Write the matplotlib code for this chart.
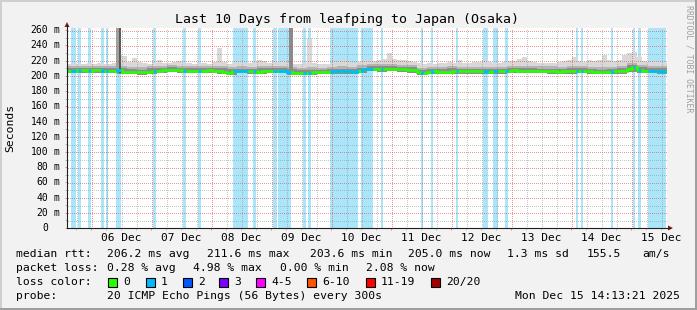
import numpy as np
import matplotlib
matplotlib.use("Agg")
import matplotlib.pyplot as plt
from matplotlib.lines import Line2D
from matplotlib.patches import Rectangle, Polygon
from datetime import datetime, timedelta

W, H = 697, 310
end_time = datetime(2025, 12, 15, 14, 13, 21)
start_time = end_time - timedelta(days=10)

# median rtt in ms, one value per 2 hours
median_rtt = [
    207.0, 206.4, 207.5, 207.8, 206.2, 207.6, 207.8, 206.4, 206.6, 206.4,
    207.6, 205.3, 205.0, 204.6, 204.6, 204.8, 204.9, 206.8, 207.1, 207.3,
    207.8, 208.2, 207.2, 206.8, 206.9, 207.1, 206.5, 206.8, 207.2, 206.9,
    206.6, 205.6, 203.8, 205.8, 206.5, 206.4, 206.2, 205.9, 204.8, 206.7,
    206.8, 206.6, 206.9, 206.2, 205.6, 204.2, 204.0, 204.2, 204.3, 205.2,
    205.3, 205.0, 205.6, 205.8, 206.0, 206.0, 205.9, 205.4, 206.9, 209.0,
    209.3, 209.0, 208.6, 209.2, 208.9, 209.4, 209.0, 208.7, 208.0, 207.2,
    204.6, 204.4, 205.4, 205.8, 205.6, 204.9, 205.1, 206.6, 206.2, 205.9,
    206.1, 205.8, 206.2, 205.8, 205.6, 205.9, 206.0, 205.8, 207.0, 207.4,
    206.8, 206.6, 206.4, 206.9, 206.5, 206.2, 206.0, 206.5, 205.7, 206.2,
    205.9, 206.6, 206.4, 206.8, 206.3, 205.4, 204.9, 205.2, 205.5, 205.8,
    205.9, 206.6, 208.6, 211.6, 208.1, 206.9, 207.0, 206.9, 206.5, 205.0,
]

# highest ping of the smoke, one value per 2 hours
smoke_top = [
    215.5, 216.8, 216.0, 215.2, 216.4, 215.8, 217.0, 216.2, 215.6, 216.5,
    229.0, 226.5, 217.8, 224.0, 218.2, 216.4, 215.8, 216.6, 220.5, 217.2,
    216.8, 218.0, 219.5, 217.0, 216.5, 215.7, 216.9, 217.5, 216.2, 218.4,
    237.0, 218.5, 215.9, 217.4, 218.2, 217.6, 217.0, 218.8, 220.8, 219.4,
    217.3, 216.8, 218.6, 219.8, 217.5, 216.2, 215.5, 216.4, 250.0, 217.2,
    216.0, 215.4, 216.3, 217.8, 219.2, 221.5, 218.8, 217.4, 218.2, 220.5,
    221.0, 220.2, 221.3, 222.0, 229.5, 222.5, 221.0, 220.4, 219.2, 218.6,
    216.4, 216.0, 217.5, 216.2, 217.0, 216.6, 218.0, 217.2, 221.0, 217.6,
    216.8, 217.9, 218.6, 221.2, 218.0, 217.1, 216.5, 218.3, 219.0, 220.2,
    222.5, 225.2, 219.4, 218.0, 217.2, 216.8, 217.5, 216.4, 217.8, 219.0,
    220.4, 225.0, 219.8, 218.2, 220.6, 219.4, 220.8, 227.0, 221.2, 219.0,
    220.5, 228.0, 230.0, 232.0, 224.5, 219.6, 218.4, 219.0, 218.2, 217.0,
]

# smoke layers, one value per 4 hours
smoke_upper = [
    212.8, 213.5, 213.0, 213.2, 212.6, 213.4, 211.5, 211.8, 212.9, 213.3,
    214.0, 213.1, 212.9, 212.4, 213.0, 212.5, 211.8, 212.6, 212.2, 212.5,
    212.8, 212.6, 211.6, 210.3, 211.2, 211.0, 211.8, 212.4, 212.3, 213.8,
    215.2, 215.5, 215.4, 215.0, 214.2, 210.6, 211.9, 211.5, 212.6, 212.2,
    212.0, 212.3, 211.9, 212.0, 213.4, 212.8, 213.0, 212.6, 212.5, 212.2,
    212.7, 213.1, 212.3, 211.2, 211.8, 212.7, 217.5, 214.6, 213.2, 212.8,
]
smoke_dark = [
    210.0, 210.8, 210.3, 210.6, 209.8, 210.4, 208.5, 208.4, 210.0, 210.5,
    211.2, 210.4, 210.2, 209.9, 210.3, 209.8, 209.0, 209.7, 209.5, 209.9,
    210.0, 209.9, 208.8, 207.5, 208.3, 208.4, 209.1, 209.6, 209.3, 211.0,
    212.5, 212.4, 212.6, 212.2, 211.3, 207.8, 209.0, 208.8, 209.9, 209.4,
    209.3, 209.4, 209.1, 209.2, 210.6, 210.0, 210.1, 209.7, 209.7, 209.4,
    209.8, 210.0, 209.5, 208.4, 209.0, 209.8, 214.5, 211.8, 210.4, 209.9,
]
smoke_bottom = [
    203.5, 204.2, 203.4, 203.6, 203.4, 202.6, 201.9, 201.8, 202.1, 204.0,
    204.6, 203.8, 203.9, 203.5, 203.8, 202.7, 201.0, 203.3, 202.9, 202.0,
    203.6, 203.2, 201.3, 201.2, 201.5, 202.1, 202.6, 202.9, 202.5, 203.8,
    206.0, 205.7, 205.9, 205.7, 204.3, 201.4, 202.4, 202.0, 202.2, 203.0,
    202.8, 202.9, 202.7, 202.9, 203.9, 203.6, 203.5, 203.2, 203.0, 202.8,
    203.0, 203.3, 202.5, 202.0, 202.6, 203.0, 205.5, 204.0, 203.9, 202.1,
]

# packet loss periods (hours after start)
loss_start = [1.6, 4.2, 8.4, 13.6, 15.4, 19.5, 34.2, 46.3, 52.4, 66.4,
              74.4, 82.4, 84.4, 94.3, 96.3, 105.2, 117.5, 125.5, 141.5, 145.6,
              155.6, 166.3, 170.4, 175.3, 203.5, 205.5, 217.5, 226.3, 228.3, 232.3]
loss_end = [3.6, 5.6, 9.6, 14.6, 16.4, 21.5, 35.6, 47.6, 53.6, 72.4,
            75.6, 83.8, 89.6, 95.6, 97.6, 116.3, 122.5, 126.3, 142.4, 146.4,
            156.4, 168.4, 172.3, 176.3, 204.3, 206.4, 218.3, 227.3, 229.6, 239.5]

# outlier pings that reach the top of the graph
spike_start = [19.6, 20.8, 88.9]
spike_end = [20.8, 21.6, 90.2]
spike_top = [263, 263, 263]

y_ticks = list(range(0, 261, 20))

loss_labels = ["0", "1", "2", "3", "4-5", "6-10", "11-19", "20/20"]
loss_colors = ["#26ff00", "#00b8ff", "#0059ff", "#7e00ff", "#ff00ff",
               "#ff5500", "#ff0000", "#a10000"]

MONO = "DejaVu Sans Mono"
GRID = (0.56, 0.56, 0.56, 0.5)
MGRID = (0.87, 0.31, 0.31, 0.6)

PW, PH = 600, 200      # canvas size in pixels
XMAX, YMAX = 240, 263


def fx(px):
    return px / W


def fy(py):
    return 1 - py / H


fig = plt.figure(figsize=(W / 100, H / 100), dpi=100, facecolor="#f2f2f2")
ax = fig.add_axes([fx(67), fy(228), PW / W, PH / H])
ax.set_facecolor("white")
for s in ax.spines.values():
    s.set_visible(False)

# loss background
for s, e in zip(loss_start, loss_end):
    ax.axvspan(s, e, color="#aae5fa", lw=0, zorder=1)

# smoke
e2 = np.arange(len(median_rtt) + 1) * 2.0
e4 = np.arange(len(smoke_dark) + 1) * 4.0
ax.stairs(smoke_top, e2, baseline=np.repeat(smoke_bottom, 2), fill=True,
          color="#d8d8d8", lw=0, zorder=2)
ax.stairs(smoke_upper, e4, baseline=smoke_bottom, fill=True,
          color="#b4b4b4", lw=0, zorder=2.1)
ax.stairs(smoke_dark, e4, baseline=smoke_bottom, fill=True,
          color="#8c8c8c", lw=0, zorder=2.2)
for s, e, t, c in zip(spike_start, spike_end, spike_top,
                      ["#a0a0a0", "#5a5a5a", "#8a8a8a"]):
    ax.fill_between([s, e], 204, t, color=c, lw=0, zorder=2.3)

# dotted grid: one 1px square marker on every second pixel
h0 = (datetime(2025, 12, 6) - start_time).total_seconds() / 3600
xpx = (np.arange(0, PW, 2) + 0.5) * XMAX / PW
ypx = (np.arange(0, PH, 2) + 0.5) * YMAX / PH
dot = dict(ls="none", marker="s", ms=0.72, mew=0, antialiased=False, zorder=3)
minor_x, major_x = [], []
for k in range(-2, 42):
    t = h0 + 6 * k
    if 0 < t < XMAX:
        major = k % 4 == 0
        (major_x if major else minor_x).append(t)
        tc = (np.floor(t / XMAX * PW) + 0.5) * XMAX / PW
        ax.plot(np.full(len(ypx), tc), ypx, color=MGRID if major else GRID, **dot)
for v in range(10, 261, 10):
    vc = (np.floor(v / YMAX * PH) + 0.5) * YMAX / PH
    ax.plot(xpx, np.full(len(xpx), vc), color=MGRID if v % 20 == 0 else GRID, **dot)

# median line colored by loss
ax.stairs(median_rtt, e2, baseline=None, color="#26ff00", lw=1.9, zorder=4)
med = np.asarray(median_rtt)
for s, e in zip(loss_start, loss_end):
    inner = e2[(e2 > s) & (e2 < e)]
    xs = np.concatenate([[s], inner, [e]])
    idx = np.clip(np.searchsorted(e2, xs[:-1], side="right") - 1, 0, len(med) - 1)
    ax.stairs(med[idx], xs, baseline=None, color="#00b8ff", lw=1.9, zorder=4.1)

ax.set_xlim(0, XMAX)
ax.set_ylim(0, YMAX)

# ticks
ax.set_xticks(major_x)
ax.set_xticks(minor_x, minor=True)
ax.set_yticks(y_ticks)
ax.set_yticks(range(10, 261, 20), minor=True)
ax.set_xticklabels([])
ax.set_yticklabels([])
ax.tick_params(which="major", length=1.6, width=0.72, color=MGRID, direction="out")
ax.tick_params(which="minor", length=1.6, width=0.72, color=GRID, direction="out")

for v in y_ticks:
    py = 228 - v * PH / YMAX
    fig.text(fx(48), fy(py), str(v), ha="right", va="center",
             family=MONO, fontsize=7.0)
    if v:
        fig.text(fx(53.5), fy(py), "m", ha="left", va="center",
                 family=MONO, fontsize=7.0)

for d in range(6, 16):
    t = (datetime(2025, 12, d, 12) - start_time).total_seconds() / 3600
    fig.text(fx(67 + t * PW / XMAX), fy(238), datetime(2025, 12, d).strftime("%d %b"),
             ha="center", va="center", family=MONO, fontsize=8.0)

# axes and arrows
fig.add_artist(Line2D([fx(67), fx(67)], [fy(228), fy(25)], color="#1f1f1f", lw=0.8))
fig.add_artist(Line2D([fx(67), fx(670)], [fy(228), fy(228)], color="#1f1f1f", lw=0.8))
fig.add_artist(Polygon([(fx(64.5), fy(27)), (fx(69.5), fy(27)), (fx(67), fy(22))],
                       closed=True, color="#7f1f1f", lw=0))
fig.add_artist(Polygon([(fx(668), fy(225.5)), (fx(668), fy(230.5)), (fx(673), fy(228))],
                       closed=True, color="#7f1f1f", lw=0))

# titles
fig.text(fx(347), fy(19), "Last 10 Days from leafping to Japan (Osaka)",
         ha="center", va="center", family=MONO, fontsize=9.5)
fig.text(fx(10), fy(128), "Seconds", rotation=90, ha="center", va="center",
         family=MONO, fontsize=8.2)
fig.text(fx(689.5), fy(5), "RRDTOOL / TOBI OETIKER", rotation=-90, ha="center",
         va="top", family=MONO, fontsize=5.9, color="#a0a0a0")

# legend
rows = [
    (254.3, [("median rtt:", 16), ("206.2 ms avg", 107.3), ("211.6 ms max", 207.3),
             ("203.6 ms min", 310), ("205.0 ms now", 407.7), ("1.3 ms sd", 507.3),
             ("155.5", 586.7), ("am/s", 642.3)]),
    (268.3, [("packet loss:", 16), ("0.28 % avg", 107.3), ("4.98 % max", 192.7),
             ("0.00 % min", 280), ("2.08 % now", 365.7)]),
    (282.3, [("loss color:", 16)]),
    (296.0, [("probe:", 16), ("20 ICMP Echo Pings (56 Bytes) every 300s", 107.3)]),
]
for py, items in rows:
    for txt, px in items:
        fig.text(fx(px), fy(py), txt, ha="left", va="center", family=MONO, fontsize=8.2)
fig.text(fx(680), fy(296), end_time.strftime("%a %b %d %H:%M:%S %Y"),
         ha="right", va="center", family=MONO, fontsize=8.2)

box_x = [108.3, 145.7, 182.7, 219.3, 256.3, 307.0, 365.7, 430.7]
for bx, lab, col in zip(box_x, loss_labels, loss_colors):
    fig.add_artist(Rectangle((fx(bx), fy(287)), 9 / W, 9 / H, facecolor=col,
                             edgecolor="black", lw=0.8))
    fig.text(fx(bx + 15), fy(282.3), lab, ha="left", va="center",
             family=MONO, fontsize=8.2)

# frame
fig.add_artist(Rectangle((0, fy(2)), 1, 2 / H, color="#cfcfcf", lw=0))
fig.add_artist(Rectangle((0, 0), 2 / W, 1, color="#cfcfcf", lw=0))
fig.add_artist(Rectangle((0, 0), 1, 2 / H, color="#9e9e9e", lw=0))
fig.add_artist(Rectangle((fx(695), 0), 2 / W, 1, color="#9e9e9e", lw=0))

fig.savefig("out.png", dpi=100, facecolor=fig.get_facecolor())
